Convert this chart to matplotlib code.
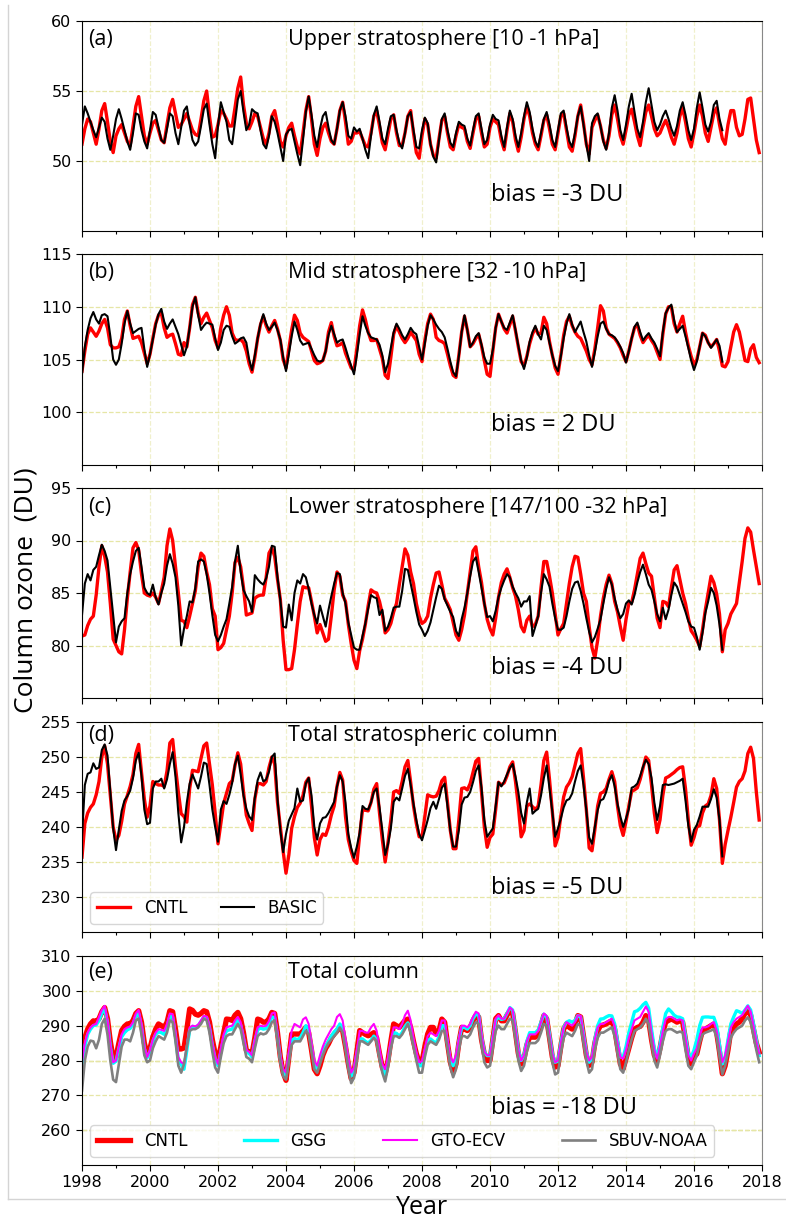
import numpy as np
import matplotlib
matplotlib.use("Agg")
import matplotlib.pyplot as plt
from matplotlib.lines import Line2D

# monthly values, Jan 1998 onward (DU)
a_cntl = [51.2, 52.3, 53.0, 52.8, 52.0, 51.2, 52.3, 53.6, 54.1, 52.8, 51.4, 50.6,
          51.8, 52.3, 52.6, 52.0, 51.4, 51.1, 52.5, 53.9, 54.6, 53.2, 51.8, 51.2,
          52.0, 52.7, 52.9, 52.2, 51.5, 51.3, 52.6, 53.8, 54.4, 53.4, 52.4, 52.6,
          53.0, 53.4, 52.8, 52.2, 51.9, 51.8, 53.0, 54.3, 55.0, 53.2, 51.7, 51.8,
          52.6, 53.6, 53.4, 53.0, 52.5, 52.5, 53.8, 55.2, 56.0, 54.0, 52.7, 52.3,
          52.8, 53.4, 53.2, 52.4, 51.6, 51.2, 52.0, 53.2, 53.6, 52.6, 51.4, 51.0,
          51.8, 52.4, 52.7, 51.8, 51.0, 50.5, 52.0, 53.6, 54.6, 53.0, 51.2, 50.4,
          51.6, 52.4, 52.7, 52.0, 51.4, 51.2, 52.3, 53.6, 54.2, 52.8, 51.2, 51.4,
          52.0, 52.0, 52.1, 51.6, 51.1, 51.0, 52.0, 53.2, 53.6, 52.5, 51.3, 50.8,
          51.9, 53.0, 53.3, 52.0, 51.1, 51.1, 52.0, 53.2, 53.6, 52.0, 50.6, 50.2,
          51.8, 53.0, 52.6, 51.2, 50.4, 50.2, 51.6, 52.9, 53.2, 52.0, 51.0, 50.8,
          51.8, 52.6, 52.4, 52.3, 51.4, 50.9, 52.0, 53.0, 53.2, 52.0, 51.0, 51.2,
          52.4, 53.0, 52.8, 52.6, 51.5, 50.8, 52.2, 53.4, 52.8, 51.5, 50.7, 51.7,
          53.0, 53.9, 53.2, 52.0, 51.2, 50.8, 51.8, 52.9, 53.3, 52.3, 51.2, 50.8,
          52.0, 53.2, 53.4, 52.2, 51.0, 50.7, 51.8, 53.2, 54.0, 52.7, 51.2, 50.5,
          52.4, 52.9, 53.3, 52.5, 51.5, 50.9, 51.8, 53.3, 54.0, 53.0, 51.8, 51.2,
          52.2, 53.3, 53.7, 52.8, 51.8, 51.1, 52.4, 53.5, 54.0, 53.2, 52.3, 51.8,
          52.0, 52.5, 52.9, 52.4, 51.7, 51.2, 52.0, 53.2, 53.8, 52.8, 51.6, 51.0,
          52.0, 53.2, 54.0, 53.2, 52.0, 51.4, 52.4, 53.4, 53.8, 52.6, 51.6, 51.2,
          52.6, 53.6, 53.6, 52.4, 51.8, 51.9, 53.0, 54.4, 54.5, 53.0, 51.5, 50.6]
a_basic = [52.6, 53.9, 53.4, 52.8, 52.2, 51.7, 52.4, 53.1, 52.8, 51.6, 50.8, 51.8,
           53.0, 53.7, 53.0, 52.2, 51.4, 50.8, 52.0, 53.4, 53.3, 52.2, 51.4, 50.9,
           52.2, 53.5, 53.3, 52.4, 51.5, 51.3, 52.3, 53.4, 53.2, 52.0, 51.2, 52.4,
           53.6, 53.9, 52.6, 51.5, 51.1, 51.4, 52.5, 53.7, 54.1, 52.6, 51.2, 50.2,
           52.5, 54.2, 53.5, 52.8, 51.5, 51.2, 52.8, 54.4, 55.0, 53.5, 52.2, 52.6,
           53.7, 53.5, 53.4, 52.2, 51.2, 50.9, 51.8, 53.2, 52.8, 52.0, 51.0, 50.0,
           51.9, 52.2, 52.3, 51.4, 50.5, 49.7, 51.5, 53.5, 54.6, 53.3, 51.8, 51.0,
           52.3, 53.2, 53.5, 52.4, 51.5, 51.2, 52.3, 53.6, 54.2, 53.2, 51.8, 51.6,
           52.4, 52.1, 52.3, 51.6, 50.8, 50.2, 51.8, 53.3, 53.9, 52.8, 51.6, 51.2,
           52.3, 53.2, 53.3, 52.2, 51.3, 50.9, 52.0, 53.2, 53.5, 52.2, 51.0, 50.9,
           52.2, 53.1, 52.7, 51.2, 50.3, 49.9, 51.5, 53.0, 53.4, 52.2, 51.3, 51.0,
           52.0, 52.8, 52.6, 52.5, 51.6, 51.1, 52.2, 53.2, 53.4, 52.3, 51.2, 51.5,
           52.6, 53.3, 53.0, 52.9, 51.8, 51.0, 52.4, 53.6, 53.0, 51.8, 51.0, 52.0,
           53.2, 54.2, 53.5, 52.3, 51.4, 51.0, 52.0, 53.0, 53.5, 52.6, 51.5, 51.0,
           52.2, 53.4, 53.6, 52.4, 51.4, 51.0, 52.0, 53.2, 53.9, 52.6, 51.2, 50.0,
           52.7, 53.2, 53.4, 52.5, 51.4, 50.8, 52.0, 53.8, 54.7, 53.6, 52.2, 51.5,
           52.6, 53.9, 54.8, 53.5, 52.3, 51.7, 52.8, 54.2, 55.2, 54.0, 52.8, 52.2,
           52.6, 53.2, 53.6, 53.0, 52.3, 51.8, 52.5, 53.6, 54.2, 53.3, 52.2, 51.5,
           52.3, 53.8, 54.9, 53.8, 52.6, 52.1, 52.8, 54.0, 54.3, 53.0, 52.2]

b_cntl = [103.9, 105.8, 107.4, 108.0, 107.6, 107.2, 107.7, 108.4, 108.8, 108.0, 106.4, 106.1,
          106.1, 106.2, 107.0, 108.8, 109.6, 108.2, 107.0, 107.1, 107.2, 106.6, 105.6, 104.6,
          105.5, 107.0, 108.4, 109.2, 109.4, 108.0, 107.1, 107.3, 107.4, 106.5, 105.5, 105.4,
          106.6, 106.2, 108.0, 110.2, 110.9, 109.4, 108.4, 109.0, 109.4, 108.7, 108.0, 106.8,
          106.1, 108.0, 109.2, 110.0, 109.2, 107.5, 106.9, 106.8, 106.9, 106.6, 105.8, 104.6,
          103.8, 105.2, 107.0, 108.3, 109.1, 108.2, 107.6, 108.2, 108.7, 107.9, 106.8, 105.0,
          104.2, 106.0, 107.8, 109.2, 108.7, 107.5, 107.1, 106.9, 106.7, 105.8, 104.9, 104.6,
          104.7, 104.9, 105.8, 107.6, 108.5, 107.2, 106.3, 106.4, 106.6, 105.6, 104.9, 104.2,
          104.0, 106.0, 108.2, 109.7, 108.8, 107.6, 106.8, 106.8, 106.9, 106.0, 105.1, 103.5,
          103.2, 105.2, 107.4, 108.2, 107.6, 107.0, 106.6, 107.0, 107.6, 107.2, 106.8, 105.5,
          104.8, 106.8, 108.4, 109.3, 108.8, 107.1, 106.8, 106.7, 106.5, 105.5, 104.4, 103.5,
          103.3, 105.4, 107.6, 109.1, 107.8, 106.2, 106.5, 107.0, 107.4, 106.3, 104.9, 103.6,
          103.4, 105.8, 108.0, 109.3, 108.6, 107.9, 107.5, 108.3, 109.1, 107.7, 106.2, 104.8,
          104.4, 105.3, 106.5, 107.4, 108.0, 107.4, 107.5, 109.0, 108.4, 106.7, 105.4, 104.2,
          103.6, 105.4, 107.3, 108.6, 109.1, 108.2, 107.6, 107.2, 107.0, 106.4, 105.8, 105.0,
          104.5, 106.0, 108.0, 110.1, 109.6, 108.0, 107.4, 107.2, 107.0, 106.6, 106.1, 105.4,
          104.8, 105.8, 107.0, 108.0, 108.3, 107.3, 106.6, 107.0, 107.3, 106.8, 106.4, 105.7,
          105.0, 107.4, 109.3, 110.0, 110.0, 108.4, 107.6, 108.4, 109.1, 107.6, 106.3, 105.3,
          104.5, 105.0, 106.2, 107.5, 107.3, 106.6, 106.2, 106.5, 106.9, 105.8, 104.4, 104.3,
          104.8, 106.2, 107.6, 108.3, 107.6, 106.3, 104.9, 104.8, 106.0, 106.4, 105.2, 104.7]
b_basic = [103.6, 106.2, 107.8, 108.9, 109.5, 108.8, 108.4, 109.2, 109.3, 109.1, 107.2, 105.0,
           104.5, 105.0, 106.5, 108.4, 109.6, 108.4, 107.5, 107.7, 107.9, 108.0, 106.0, 104.3,
           105.5, 106.9, 108.3, 109.3, 109.8, 108.6, 107.9, 108.4, 108.8, 108.1, 107.4, 106.4,
           105.4, 106.2, 108.0, 110.0, 110.9, 109.2, 107.8, 108.2, 108.5, 108.4, 108.3, 107.0,
           105.9, 106.6, 107.8, 108.2, 108.1, 107.2, 106.5, 106.7, 107.0, 107.1, 106.6, 105.0,
           104.0, 105.4, 107.0, 108.4, 109.3, 108.4, 107.8, 108.1, 108.5, 107.8, 106.9, 105.2,
           103.9, 105.5, 107.2, 108.6, 107.8, 106.8, 106.4, 106.5, 106.6, 106.0, 105.4, 104.9,
           104.8, 104.9, 105.8, 107.3, 108.2, 107.4, 106.6, 106.8, 106.9, 106.1, 105.2, 104.4,
           103.6, 105.4, 107.4, 109.1, 108.2, 107.5, 107.1, 107.0, 106.9, 106.4, 105.4, 103.8,
           104.6, 106.1, 107.6, 108.4, 107.9, 107.3, 106.9, 107.4, 108.0, 107.6, 107.4, 106.2,
           105.0, 106.5, 108.2, 109.2, 108.8, 108.3, 107.9, 107.6, 107.1, 106.0, 104.8, 103.8,
           103.4, 105.3, 107.6, 109.2, 107.8, 106.2, 106.6, 107.2, 107.5, 106.4, 105.2, 104.6,
           104.6, 105.9, 108.0, 109.3, 108.6, 108.0, 107.8, 108.5, 109.2, 107.8, 106.3, 104.9,
           104.1, 105.2, 106.7, 107.6, 108.2, 107.4, 106.9, 108.2, 107.8, 106.6, 105.4, 104.4,
           103.9, 105.3, 107.0, 108.4, 109.3, 108.3, 107.6, 108.1, 108.6, 107.6, 106.7, 105.4,
           104.3, 105.7, 107.2, 108.4, 108.6, 107.9, 107.4, 107.3, 107.1, 106.7, 106.2, 105.6,
           104.7, 105.8, 107.0, 108.1, 108.5, 107.6, 106.8, 107.2, 107.5, 107.0, 106.6, 106.0,
           105.3, 107.6, 109.4, 109.9, 110.2, 108.7, 107.6, 107.9, 108.2, 107.2, 106.1, 104.9,
           104.0, 104.8, 106.2, 107.5, 107.2, 106.6, 106.1, 106.5, 106.9, 106.3, 104.8]

c_cntl = [80.9, 81.0, 81.9, 82.5, 82.8, 84.8, 87.5, 89.5, 88.5, 87.0, 84.0, 80.6,
          80.0, 79.4, 79.2, 81.5, 84.5, 87.0, 89.3, 89.8, 89.1, 86.8, 85.0, 84.8,
          84.7, 85.0, 84.6, 84.0, 85.2, 86.5, 89.5, 91.1, 90.0, 87.5, 85.0, 82.4,
          82.3, 81.7, 82.8, 84.0, 85.2, 87.5, 88.8, 88.5, 87.0, 85.8, 83.5, 82.8,
          79.6, 79.8, 80.2, 81.5, 82.8, 85.0, 87.9, 88.4, 87.5, 85.5, 82.9, 83.0,
          83.1, 84.5, 84.7, 84.8, 84.8, 86.5, 88.8, 89.3, 88.5, 86.3, 84.4, 80.5,
          77.7, 77.7, 77.8, 79.6, 82.0, 84.2, 85.6, 85.5, 85.5, 84.2, 82.8, 81.2,
          82.0, 81.2, 80.4, 80.6, 82.8, 85.3, 87.0, 86.6, 84.8, 84.2, 82.0, 80.2,
          78.6, 77.8, 79.5, 80.6, 82.0, 83.8, 85.3, 85.1, 85.0, 84.2, 83.0, 81.2,
          81.5, 82.1, 83.2, 84.0, 85.8, 87.5, 89.2, 88.6, 87.0, 85.9, 84.0, 82.8,
          82.1, 82.3, 82.8, 84.5, 85.8, 86.9, 87.0, 85.8, 84.5, 84.0, 83.4, 82.2,
          81.0, 80.5, 81.5, 82.9, 85.0, 87.0, 89.0, 89.4, 87.5, 86.0, 84.0, 82.5,
          81.6, 81.0, 82.6, 84.6, 86.0, 86.8, 87.3, 86.5, 85.5, 84.7, 83.4, 81.8,
          81.3, 82.4, 82.8, 81.8, 82.0, 82.8, 85.5, 88.0, 88.0, 86.6, 85.0, 83.0,
          81.0, 81.6, 82.1, 84.0, 85.9, 87.5, 88.5, 88.4, 86.8, 85.0, 84.2, 81.8,
          79.8, 78.8, 80.5, 82.8, 84.5, 85.8, 86.7, 85.9, 84.2, 83.2, 81.8, 80.5,
          82.5, 84.0, 84.1, 85.3, 86.8, 88.3, 88.8, 87.8, 86.9, 86.6, 84.6, 82.6,
          81.7, 84.2, 84.1, 83.7, 85.5, 87.2, 87.6, 86.3, 85.0, 84.0, 82.6, 81.4,
          81.0, 80.5, 79.9, 81.5, 83.4, 85.0, 86.6, 86.0, 84.9, 83.0, 79.4, 81.5,
          82.1, 83.0, 83.5, 84.0, 86.0, 88.0, 90.2, 91.2, 90.8, 89.1, 87.5, 85.9]
c_basic = [82.9, 85.9, 86.8, 86.2, 87.2, 87.5, 88.6, 89.6, 89.0, 88.1, 85.5, 83.0,
           80.3, 81.8, 82.3, 82.6, 85.0, 86.8, 88.0, 89.0, 89.3, 87.5, 85.5, 85.0,
           84.8, 85.8, 84.6, 83.9, 85.0, 85.9, 87.6, 88.7, 87.8, 86.5, 83.8, 80.0,
           81.6, 82.8, 84.2, 84.1, 85.5, 88.0, 88.2, 88.0, 86.8, 85.0, 82.9, 81.0,
           80.4, 81.0, 81.8, 82.5, 84.0, 85.6, 88.0, 89.5, 87.0, 85.3, 84.7, 84.2,
           83.2, 86.7, 86.3, 86.0, 85.8, 86.4, 87.5, 89.5, 89.4, 86.5, 84.3, 81.8,
           81.7, 83.9, 82.4, 85.0, 86.2, 85.9, 86.8, 86.5, 85.4, 84.0, 82.9, 82.1,
           83.8, 82.8, 81.8, 83.4, 84.7, 85.9, 86.9, 86.8, 85.0, 84.0, 82.2, 81.0,
           79.8, 79.6, 79.6, 80.9, 82.1, 83.5, 84.8, 84.6, 84.5, 82.9, 83.4, 81.4,
           81.8, 82.6, 83.6, 83.7, 83.7, 85.2, 87.3, 87.2, 85.9, 84.6, 83.2, 82.0,
           81.5, 80.9, 81.4, 82.2, 83.4, 84.6, 85.7, 85.4, 84.4, 83.8, 83.2, 82.7,
           81.4, 80.9, 82.5, 83.6, 85.0, 86.6, 88.0, 88.4, 87.0, 85.5, 84.0, 82.7,
           82.8, 82.3, 83.3, 84.6, 85.5, 86.2, 86.8, 86.5, 85.6, 85.0, 84.5, 83.7,
           84.2, 84.2, 84.7, 80.9, 81.8, 82.8, 85.0, 86.8, 86.3, 85.6, 84.0, 82.6,
           81.5, 81.5, 81.7, 82.8, 84.2, 85.4, 86.0, 86.1, 85.2, 84.0, 82.6, 81.3,
           80.3, 80.8, 81.6, 82.5, 84.0, 85.4, 86.5, 85.8, 84.5, 83.4, 82.6, 83.0,
           84.0, 84.3, 83.9, 84.8, 86.0, 87.0, 87.7, 86.8, 85.8, 85.3, 84.2, 83.0,
           82.3, 83.6, 82.5, 83.4, 84.8, 86.0, 85.6, 84.8, 84.0, 83.2, 82.3, 81.8,
           81.7, 80.8, 79.6, 81.2, 83.1, 84.2, 85.5, 85.0, 83.8, 82.0, 79.6]

d_cntl = [235.7, 240.5, 242.0, 242.8, 243.3, 244.6, 246.5, 250.0, 251.6, 249.0, 244.5, 240.0,
          238.1, 238.8, 240.8, 243.3, 244.5, 245.8, 247.5, 250.5, 251.8, 247.8, 244.0, 241.4,
          243.0, 246.5, 246.2, 246.0, 246.0, 245.8, 248.0, 252.0, 252.5, 248.5, 245.0, 241.9,
          241.5, 240.7, 245.5, 248.1, 248.0, 247.9, 249.8, 251.6, 252.0, 249.0, 246.0, 242.0,
          237.6, 240.5, 243.4, 244.8, 246.2, 246.6, 248.8, 250.6, 249.0, 245.0, 241.7, 240.5,
          239.5, 244.0, 246.2, 246.2, 246.0, 246.5, 248.5, 250.0, 249.0, 243.5, 240.0, 236.5,
          233.4, 236.0, 239.8, 241.5, 242.8, 243.4, 244.5, 246.4, 247.0, 243.0, 238.5, 236.0,
          238.2, 239.0, 238.8, 240.0, 241.7, 243.0, 245.8, 247.8, 246.7, 241.5, 238.2, 236.5,
          235.2, 234.8, 238.8, 242.4, 242.4, 242.3, 243.5, 245.4, 246.2, 242.0, 238.2, 235.0,
          237.8, 241.0, 245.0, 245.2, 244.8, 246.5, 248.6, 249.5, 246.4, 243.0, 240.5, 238.6,
          238.6, 241.5, 244.6, 244.4, 244.3, 244.4, 245.2, 246.6, 247.1, 243.5, 239.5, 236.9,
          236.9, 241.0, 245.5, 245.6, 245.3, 246.2, 247.8, 249.4, 249.8, 245.0, 240.0, 237.1,
          238.5, 239.0, 242.5, 246.4, 246.0, 246.3, 247.3, 248.6, 249.3, 246.5, 243.0, 238.6,
          239.5, 243.0, 243.3, 242.9, 242.5, 243.0, 246.0, 249.5, 250.7, 246.8, 242.2, 237.3,
          238.5, 241.6, 244.3, 245.7, 246.3, 247.2, 248.8, 250.5, 251.2, 247.0, 242.5, 237.0,
          236.6, 239.6, 243.0, 244.8, 245.0, 245.5, 246.8, 247.9, 246.5, 243.0, 240.2, 238.8,
          240.8, 243.0, 245.1, 245.3, 245.6, 246.8, 248.4, 250.0, 249.5, 246.0, 242.0, 239.2,
          241.0, 244.5, 247.0, 247.2, 247.5, 247.8, 248.2, 248.5, 248.6, 245.5, 241.0, 237.4,
          238.5, 240.0, 240.2, 242.0, 243.0, 243.3, 244.5, 246.9, 245.5, 241.0, 234.8, 237.5,
          239.5, 241.4, 243.5, 245.7, 246.5, 246.9, 248.0, 250.5, 251.4, 249.8, 245.0, 241.0]
d_basic = [238.6, 246.0, 247.6, 247.8, 249.1, 248.3, 248.5, 251.0, 251.8, 250.2, 245.0, 239.8,
           236.7, 239.6, 242.3, 243.8, 244.4, 245.2, 247.0, 249.5, 250.6, 247.3, 242.5, 240.4,
           240.6, 245.5, 246.5, 246.5, 246.9, 245.5, 246.8, 249.0, 250.7, 247.2, 242.0, 237.8,
           240.0, 243.5, 246.2, 247.5, 246.5, 245.5, 247.2, 249.2, 249.0, 246.0, 242.5, 240.0,
           237.9, 242.5, 243.7, 243.3, 244.6, 246.3, 249.0, 250.2, 247.5, 244.5, 242.6, 241.5,
           241.0, 244.2, 246.7, 247.8, 246.5, 246.8, 247.9, 250.0, 250.5, 244.0, 239.5, 236.4,
           239.0, 240.9, 241.8, 242.7, 245.5, 243.6, 243.8, 246.2, 247.0, 244.5, 240.0, 238.2,
           240.5, 241.3, 241.4, 242.0, 242.8, 243.6, 245.8, 247.4, 246.5, 243.5, 239.0, 237.0,
           235.6, 237.2, 239.2, 243.0, 242.6, 242.5, 243.5, 245.0, 245.5, 242.8, 239.5, 236.0,
           237.5, 239.8, 243.6, 244.2, 243.8, 245.5, 247.3, 248.3, 246.0, 243.3, 241.0, 239.0,
           238.1, 239.5, 241.0, 242.7, 243.6, 242.6, 244.0, 245.6, 246.2, 243.0, 239.5, 237.2,
           237.2, 239.5, 243.2, 244.2, 244.3, 245.0, 246.4, 248.0, 248.8, 245.6, 241.0, 238.6,
           239.2, 239.8, 243.0, 246.4, 245.8, 246.5, 247.5, 248.4, 249.0, 247.2, 245.0, 242.0,
           240.5, 243.5, 245.5, 241.9, 242.3, 242.6, 244.5, 247.0, 248.8, 245.5, 242.2, 238.6,
           239.8, 241.2, 242.8, 243.8, 244.0, 244.8, 246.5, 248.0, 248.8, 246.0, 242.4, 238.5,
           237.6, 240.0, 242.4, 243.8, 244.0, 245.0, 246.6, 247.4, 245.8, 243.3, 241.5, 240.0,
           241.2, 242.6, 245.6, 245.8, 246.2, 247.3, 248.6, 249.6, 249.0, 247.0, 243.5, 241.0,
           243.0, 246.0, 246.1, 246.0, 246.1, 246.2, 246.4, 246.6, 246.9, 243.8, 240.2, 237.9,
           239.6, 240.3, 241.5, 242.9, 242.9, 242.9, 244.0, 245.4, 244.2, 241.0, 235.8]

e_cntl = [281.9, 286.5, 289.0, 290.5, 291.4, 291.2, 292.0, 294.0, 295.2, 292.0, 285.5, 280.6,
          281.0, 285.0, 288.6, 289.8, 290.5, 290.5, 291.5, 293.5, 294.3, 291.0, 285.0, 281.9,
          283.5, 286.8, 289.0, 290.5, 290.0, 289.5, 291.0, 294.3, 294.0, 289.0, 283.3, 283.3,
          283.6, 289.0, 294.8, 294.4, 293.3, 293.0, 293.5, 294.3, 294.0, 291.0, 286.0, 282.0,
          280.0, 284.0, 288.0, 291.9, 291.8, 291.5, 293.0, 293.8, 292.0, 288.0, 282.9, 282.5,
          281.9, 286.5, 291.9, 291.6, 291.0, 291.0, 292.0, 293.8, 293.5, 288.0, 281.0, 276.5,
          274.3, 281.0, 287.6, 287.6, 287.6, 287.6, 288.5, 289.5, 288.0, 283.0, 277.5, 276.2,
          278.5, 281.5, 283.5, 284.8, 286.5, 287.6, 288.5, 289.5, 288.5, 284.0, 279.0, 274.8,
          276.5, 282.5, 288.6, 288.0, 287.5, 287.1, 287.5, 288.0, 286.5, 282.0, 278.0, 276.2,
          280.0, 285.5, 290.5, 290.0, 289.5, 290.5, 291.5, 291.9, 289.5, 285.5, 282.0, 279.5,
          279.6, 284.0, 287.6, 289.5, 289.5, 287.6, 288.5, 291.9, 291.0, 285.0, 279.5, 276.7,
          279.0, 285.0, 289.5, 289.0, 288.6, 289.5, 291.5, 292.9, 292.5, 286.0, 281.9, 280.0,
          280.0, 286.0, 292.0, 292.9, 291.4, 291.4, 293.0, 294.3, 293.5, 288.0, 282.0, 279.0,
          280.5, 284.5, 286.7, 286.7, 286.7, 287.5, 290.0, 292.9, 292.0, 286.5, 281.0, 278.1,
          278.5, 284.0, 289.0, 290.5, 289.5, 289.0, 290.5, 292.9, 292.5, 287.0, 281.5, 278.6,
          279.5, 285.0, 288.5, 290.0, 290.2, 290.5, 291.0, 291.4, 289.0, 284.0, 279.0, 277.6,
          280.5, 283.5, 286.5, 289.0, 289.5, 289.8, 291.0, 292.9, 291.5, 286.0, 281.5, 280.0,
          283.5, 288.0, 291.0, 291.5, 291.9, 291.5, 291.0, 291.4, 291.0, 286.0, 281.0, 279.0,
          281.0, 281.9, 285.5, 288.6, 289.0, 289.5, 290.0, 290.5, 288.0, 282.5, 276.2, 278.5,
          283.0, 288.6, 289.5, 290.5, 291.0, 292.0, 293.5, 294.3, 293.0, 289.0, 285.0, 282.4]
e_gsg = [279.0, 284.0, 287.5, 289.0, 290.0, 290.2, 291.5, 293.6, 294.8, 291.0, 284.0, 279.2,
         279.8, 283.5, 286.8, 288.0, 288.8, 289.2, 290.5, 292.8, 293.5, 289.8, 283.5, 280.8,
         282.5, 285.5, 287.5, 288.2, 288.0, 287.5, 289.6, 292.8, 292.5, 287.0, 280.0, 278.8,
         277.5, 283.0, 288.8, 289.8, 289.5, 290.0, 291.2, 292.5, 292.3, 289.5, 284.5, 280.5,
         278.5, 282.5, 286.5, 288.5, 288.8, 289.0, 290.5, 291.5, 290.2, 286.5, 282.5, 282.0,
         281.0, 285.5, 288.8, 289.3, 289.0, 289.2, 290.5, 292.5, 292.3, 287.0, 280.5, 276.5,
         275.5, 281.0, 285.8, 286.3, 286.0, 286.5, 288.0, 290.0, 289.0, 284.0, 279.0, 277.5,
         280.0, 282.5, 284.2, 285.5, 287.0, 288.2, 289.0, 290.5, 289.5, 284.8, 279.5, 275.5,
         277.0, 282.0, 286.2, 286.2, 285.5, 285.0, 285.8, 287.0, 286.0, 281.5, 277.5, 275.5,
         279.5, 284.5, 288.0, 287.8, 287.0, 288.0, 289.8, 290.8, 289.0, 285.0, 281.5, 278.5,
         278.5, 282.5, 285.8, 286.2, 285.5, 285.0, 286.8, 290.0, 290.0, 285.0, 280.0, 278.5,
         280.5, 285.5, 289.5, 289.5, 289.0, 290.0, 292.0, 293.3, 293.0, 287.0, 282.5, 281.4,
         281.4, 286.5, 291.5, 292.5, 291.8, 292.0, 293.5, 295.2, 294.5, 289.0, 283.0, 280.0,
         281.5, 285.5, 288.0, 288.0, 288.0, 288.8, 291.0, 293.3, 292.5, 287.5, 282.0, 279.5,
         279.8, 285.0, 289.5, 291.0, 291.4, 291.0, 291.5, 292.9, 292.5, 287.5, 282.5, 279.5,
         280.5, 286.0, 290.0, 291.9, 292.0, 292.5, 292.9, 292.8, 290.5, 285.5, 281.0, 281.0,
         284.0, 288.0, 291.0, 294.0, 294.3, 295.0, 296.0, 296.7, 295.0, 289.0, 283.5, 281.0,
         284.5, 289.5, 293.5, 294.8, 294.0, 293.0, 292.5, 292.4, 292.0, 287.0, 282.0, 281.0,
         283.0, 286.0, 290.0, 292.4, 292.5, 292.5, 292.4, 292.4, 290.0, 284.5, 279.0, 281.0,
         286.0, 290.5, 292.5, 294.3, 294.0, 293.5, 294.5, 295.7, 294.5, 290.5, 286.0, 281.4]
e_gto = [279.5, 285.0, 288.0, 289.5, 290.2, 290.5, 292.5, 294.5, 295.7, 291.5, 284.5, 279.5,
         280.0, 284.0, 287.5, 289.0, 289.5, 289.8, 291.0, 293.5, 294.5, 290.5, 284.0, 281.0,
         283.0, 286.0, 288.0, 289.0, 288.8, 288.5, 290.5, 293.5, 293.3, 288.0, 281.0, 279.5,
         279.0, 284.0, 289.5, 290.0, 289.8, 290.3, 291.5, 292.8, 292.6, 290.0, 285.0, 281.0,
         279.0, 283.5, 287.5, 289.5, 289.8, 290.0, 291.5, 292.5, 291.0, 287.0, 283.0, 282.5,
         281.5, 286.0, 289.5, 290.0, 289.8, 290.0, 291.3, 293.5, 293.8, 288.0, 281.5, 277.5,
         276.5, 282.5, 288.5, 290.5, 290.0, 289.5, 291.8, 292.4, 290.5, 285.0, 280.0, 278.5,
         281.5, 284.0, 286.0, 287.5, 289.0, 290.0, 292.5, 293.3, 291.5, 286.0, 280.5, 276.5,
         278.0, 283.0, 288.5, 288.5, 288.0, 288.0, 289.5, 290.5, 288.5, 283.5, 279.0, 277.5,
         281.0, 286.0, 289.5, 289.5, 289.0, 290.5, 293.0, 294.3, 291.5, 286.5, 282.5, 279.5,
         279.8, 283.5, 287.0, 288.0, 287.5, 287.0, 288.5, 291.5, 291.5, 286.0, 281.0, 279.5,
         281.5, 286.0, 290.0, 290.0, 289.5, 290.5, 292.5, 294.0, 293.5, 287.5, 282.5, 281.5,
         281.5, 286.5, 292.0, 293.0, 292.0, 292.0, 293.5, 295.2, 294.5, 289.0, 283.0, 280.0,
         281.5, 285.5, 287.5, 287.5, 287.5, 288.5, 291.0, 293.5, 292.8, 287.5, 282.0, 279.5,
         280.0, 285.0, 289.5, 291.0, 290.5, 290.0, 291.0, 293.0, 292.8, 287.5, 282.5, 280.0,
         281.0, 286.0, 289.5, 290.5, 290.5, 291.0, 291.5, 292.0, 289.8, 285.0, 281.0, 280.5,
         283.0, 286.5, 289.0, 291.5, 292.0, 292.5, 294.0, 295.5, 294.0, 288.0, 283.0, 280.5,
         284.0, 288.5, 291.8, 292.5, 292.5, 292.0, 291.5, 291.8, 291.5, 286.5, 281.5, 280.0,
         282.0, 283.5, 287.0, 289.5, 289.5, 289.8, 290.5, 291.0, 288.5, 283.5, 279.5, 281.5,
         285.5, 289.5, 291.0, 292.0, 292.5, 293.0, 294.5, 295.7, 294.0, 290.0, 285.5, 282.0]
e_sbuv = [271.4, 280.0, 284.0, 285.7, 285.5, 283.5, 286.0, 290.5, 292.0, 287.5, 280.0, 274.5,
          273.8, 279.0, 284.0, 286.0, 286.0, 285.5, 288.0, 291.5, 292.0, 287.5, 281.5, 279.5,
          280.0, 283.5, 285.5, 287.0, 286.5, 286.0, 288.0, 291.5, 291.0, 285.5, 278.5, 276.5,
          279.0, 284.0, 288.5, 289.0, 289.0, 289.5, 290.5, 292.0, 291.5, 288.0, 282.5, 278.0,
          276.5, 281.0, 285.0, 287.0, 287.5, 287.5, 289.0, 290.5, 289.0, 285.0, 281.0, 280.5,
          279.5, 283.5, 287.0, 287.8, 287.5, 287.8, 289.0, 291.0, 291.5, 286.0, 279.5, 275.5,
          274.5, 279.5, 284.5, 285.5, 285.5, 285.5, 287.0, 288.5, 287.5, 282.5, 277.5, 276.5,
          279.0, 281.5, 283.5, 285.0, 286.0, 287.0, 288.0, 289.5, 288.0, 283.0, 277.5, 273.5,
          275.0, 280.0, 285.5, 285.5, 285.0, 284.5, 285.5, 286.5, 285.5, 280.5, 276.5, 274.0,
          278.0, 283.5, 287.0, 287.0, 286.5, 287.5, 289.0, 290.5, 288.0, 284.0, 280.0, 276.5,
          276.5, 281.0, 284.5, 285.5, 285.0, 284.5, 286.0, 288.5, 288.5, 283.5, 278.0, 275.2,
          277.5, 283.0, 287.0, 287.0, 286.5, 287.5, 289.5, 291.0, 290.5, 284.5, 279.5, 278.0,
          278.5, 283.5, 288.5, 290.0, 289.0, 289.0, 290.5, 292.0, 291.5, 286.0, 280.0, 277.0,
          278.5, 282.5, 285.0, 285.0, 285.0, 285.8, 288.0, 290.5, 290.0, 285.0, 279.5, 276.0,
          276.5, 282.0, 286.5, 288.0, 287.5, 287.0, 288.5, 290.5, 290.0, 285.0, 280.0, 276.5,
          277.5, 283.0, 286.5, 288.0, 288.0, 288.5, 289.0, 289.5, 287.0, 282.0, 277.5, 276.5,
          279.5, 283.0, 286.0, 288.5, 289.0, 289.5, 290.5, 292.0, 290.5, 285.0, 280.0, 278.0,
          281.5, 285.5, 288.5, 289.0, 289.0, 288.5, 288.0, 288.3, 288.0, 283.0, 278.5, 277.5,
          279.5, 281.5, 285.0, 287.5, 288.0, 288.3, 288.6, 289.0, 286.5, 281.0, 276.0, 278.5,
          282.5, 286.5, 288.0, 289.0, 289.5, 290.0, 291.5, 292.4, 291.0, 287.0, 283.0, 279.5]

panel_titles = ["Upper stratosphere [10 -1 hPa]", "Mid stratosphere [32 -10 hPa]",
                "Lower stratosphere [147/100 -32 hPa]", "Total stratospheric column",
                "Total column"]
panel_tags = ["(a)", "(b)", "(c)", "(d)", "(e)"]
bias_text = ["bias = -3 DU", "bias = 2 DU", "bias = -4 DU", "bias = -5 DU", "bias = -18 DU"]
ylims = [(45, 60), (95, 115), (75, 95), (225, 255), (250, 310)]
yticks = [[50, 55, 60], [100, 105, 110, 115], [80, 85, 90, 95],
          [230, 235, 240, 245, 250, 255], [260, 270, 280, 290, 300, 310]]


def months(vals):
    return 1998 + np.arange(len(vals)) / 12.0


W, H = 786, 1222
fig = plt.figure(figsize=(W / 100, H / 100), dpi=100)

# axes boxes in pixels: (top, bottom)
boxes = [(21, 231), (254, 465), (488, 698), (722, 932), (956, 1165)]
title_y = [0.914, 0.910, 0.905, 0.938, 0.919]
bias_y = [0.171, 0.190, 0.143, 0.210, 0.273]
txt_font = ["Open Sans", "DejaVu Sans"]

axes = []
for k, (top, bot) in enumerate(boxes):
    ax = fig.add_axes([82 / W, 1 - bot / H, 680 / W, (bot - top) / H])
    axes.append(ax)
    ax.set_xlim(1998, 2018)
    ax.set_ylim(*ylims[k])
    ax.set_yticks(yticks[k])
    ax.set_xticks(np.arange(1998, 2019, 2))
    ax.set_xticks(np.arange(1999, 2018, 2), minor=True)
    ax.tick_params(axis="both", labelsize=11.5, length=4, width=0.8)
    ax.tick_params(axis="x", which="minor", length=2.5, width=0.8)
    if k < 4:
        ax.tick_params(axis="x", labelbottom=False)
    ax.grid(axis="x", color="#f0f0cc", linestyle="--", linewidth=0.9)
    ax.grid(axis="y", color="#e6e6a6", linestyle="--", linewidth=0.9)
    ax.set_axisbelow(True)
    ax.spines["right"].set_color("#888888")
    ax.text(0.009, title_y[k], panel_tags[k], transform=ax.transAxes,
            fontsize=15.5, family=txt_font, va="center", ha="left")
    ax.text(0.303, title_y[k], panel_titles[k], transform=ax.transAxes,
            fontsize=15.5, family=txt_font, va="center", ha="left")
    ax.text(0.601, bias_y[k], bias_text[k], transform=ax.transAxes,
            fontsize=17, family=txt_font, va="center", ha="left")

pairs = [(a_cntl, a_basic), (b_cntl, b_basic), (c_cntl, c_basic), (d_cntl, d_basic)]
for k, (cntl, basic) in enumerate(pairs):
    ax = axes[k]
    ax.plot(months(cntl), cntl, color="red", lw=2.4, label="CNTL")
    ax.plot(months(basic), basic, color="black", lw=1.5, label="BASIC")

axes[3].legend(loc="lower left", ncol=2, fontsize=12, handlelength=2.0)

ax = axes[4]
for yv in (260, 280, 290):
    ax.axhline(yv, color="#cccc50", linestyle="--", linewidth=0.9, zorder=0.5)
ax.plot(months(e_cntl), e_cntl, color="red", lw=3.8, label="CNTL")
ax.plot(months(e_gsg), e_gsg, color="cyan", lw=2.4, label="GSG")
ax.plot(months(e_gto), e_gto, color="magenta", lw=1.5, label="GTO-ECV")
ax.plot(months(e_sbuv), e_sbuv, color="gray", lw=1.9, label="SBUV-NOAA")
ax.legend(loc="lower left", ncol=4, fontsize=12, handlelength=2.0, columnspacing=3.4)

fig.text(26 / W, 1 - 590 / H, "Column ozone  (DU)", rotation=90, fontsize=19,
         family=txt_font, ha="center", va="center")
fig.text(422 / W, 1 - 1207 / H, "Year", fontsize=18, family=txt_font,
         ha="center", va="center")

# faint frame of the original figure canvas
fig.add_artist(Line2D([8 / W, 8 / W], [1 - 1199 / H, 1 - 5 / H], color="#d4d4d4", lw=1))
fig.add_artist(Line2D([8 / W, 1.0], [1 - 1199 / H, 1 - 1199 / H], color="#d4d4d4", lw=1))

fig.savefig("out.png", dpi=100)
